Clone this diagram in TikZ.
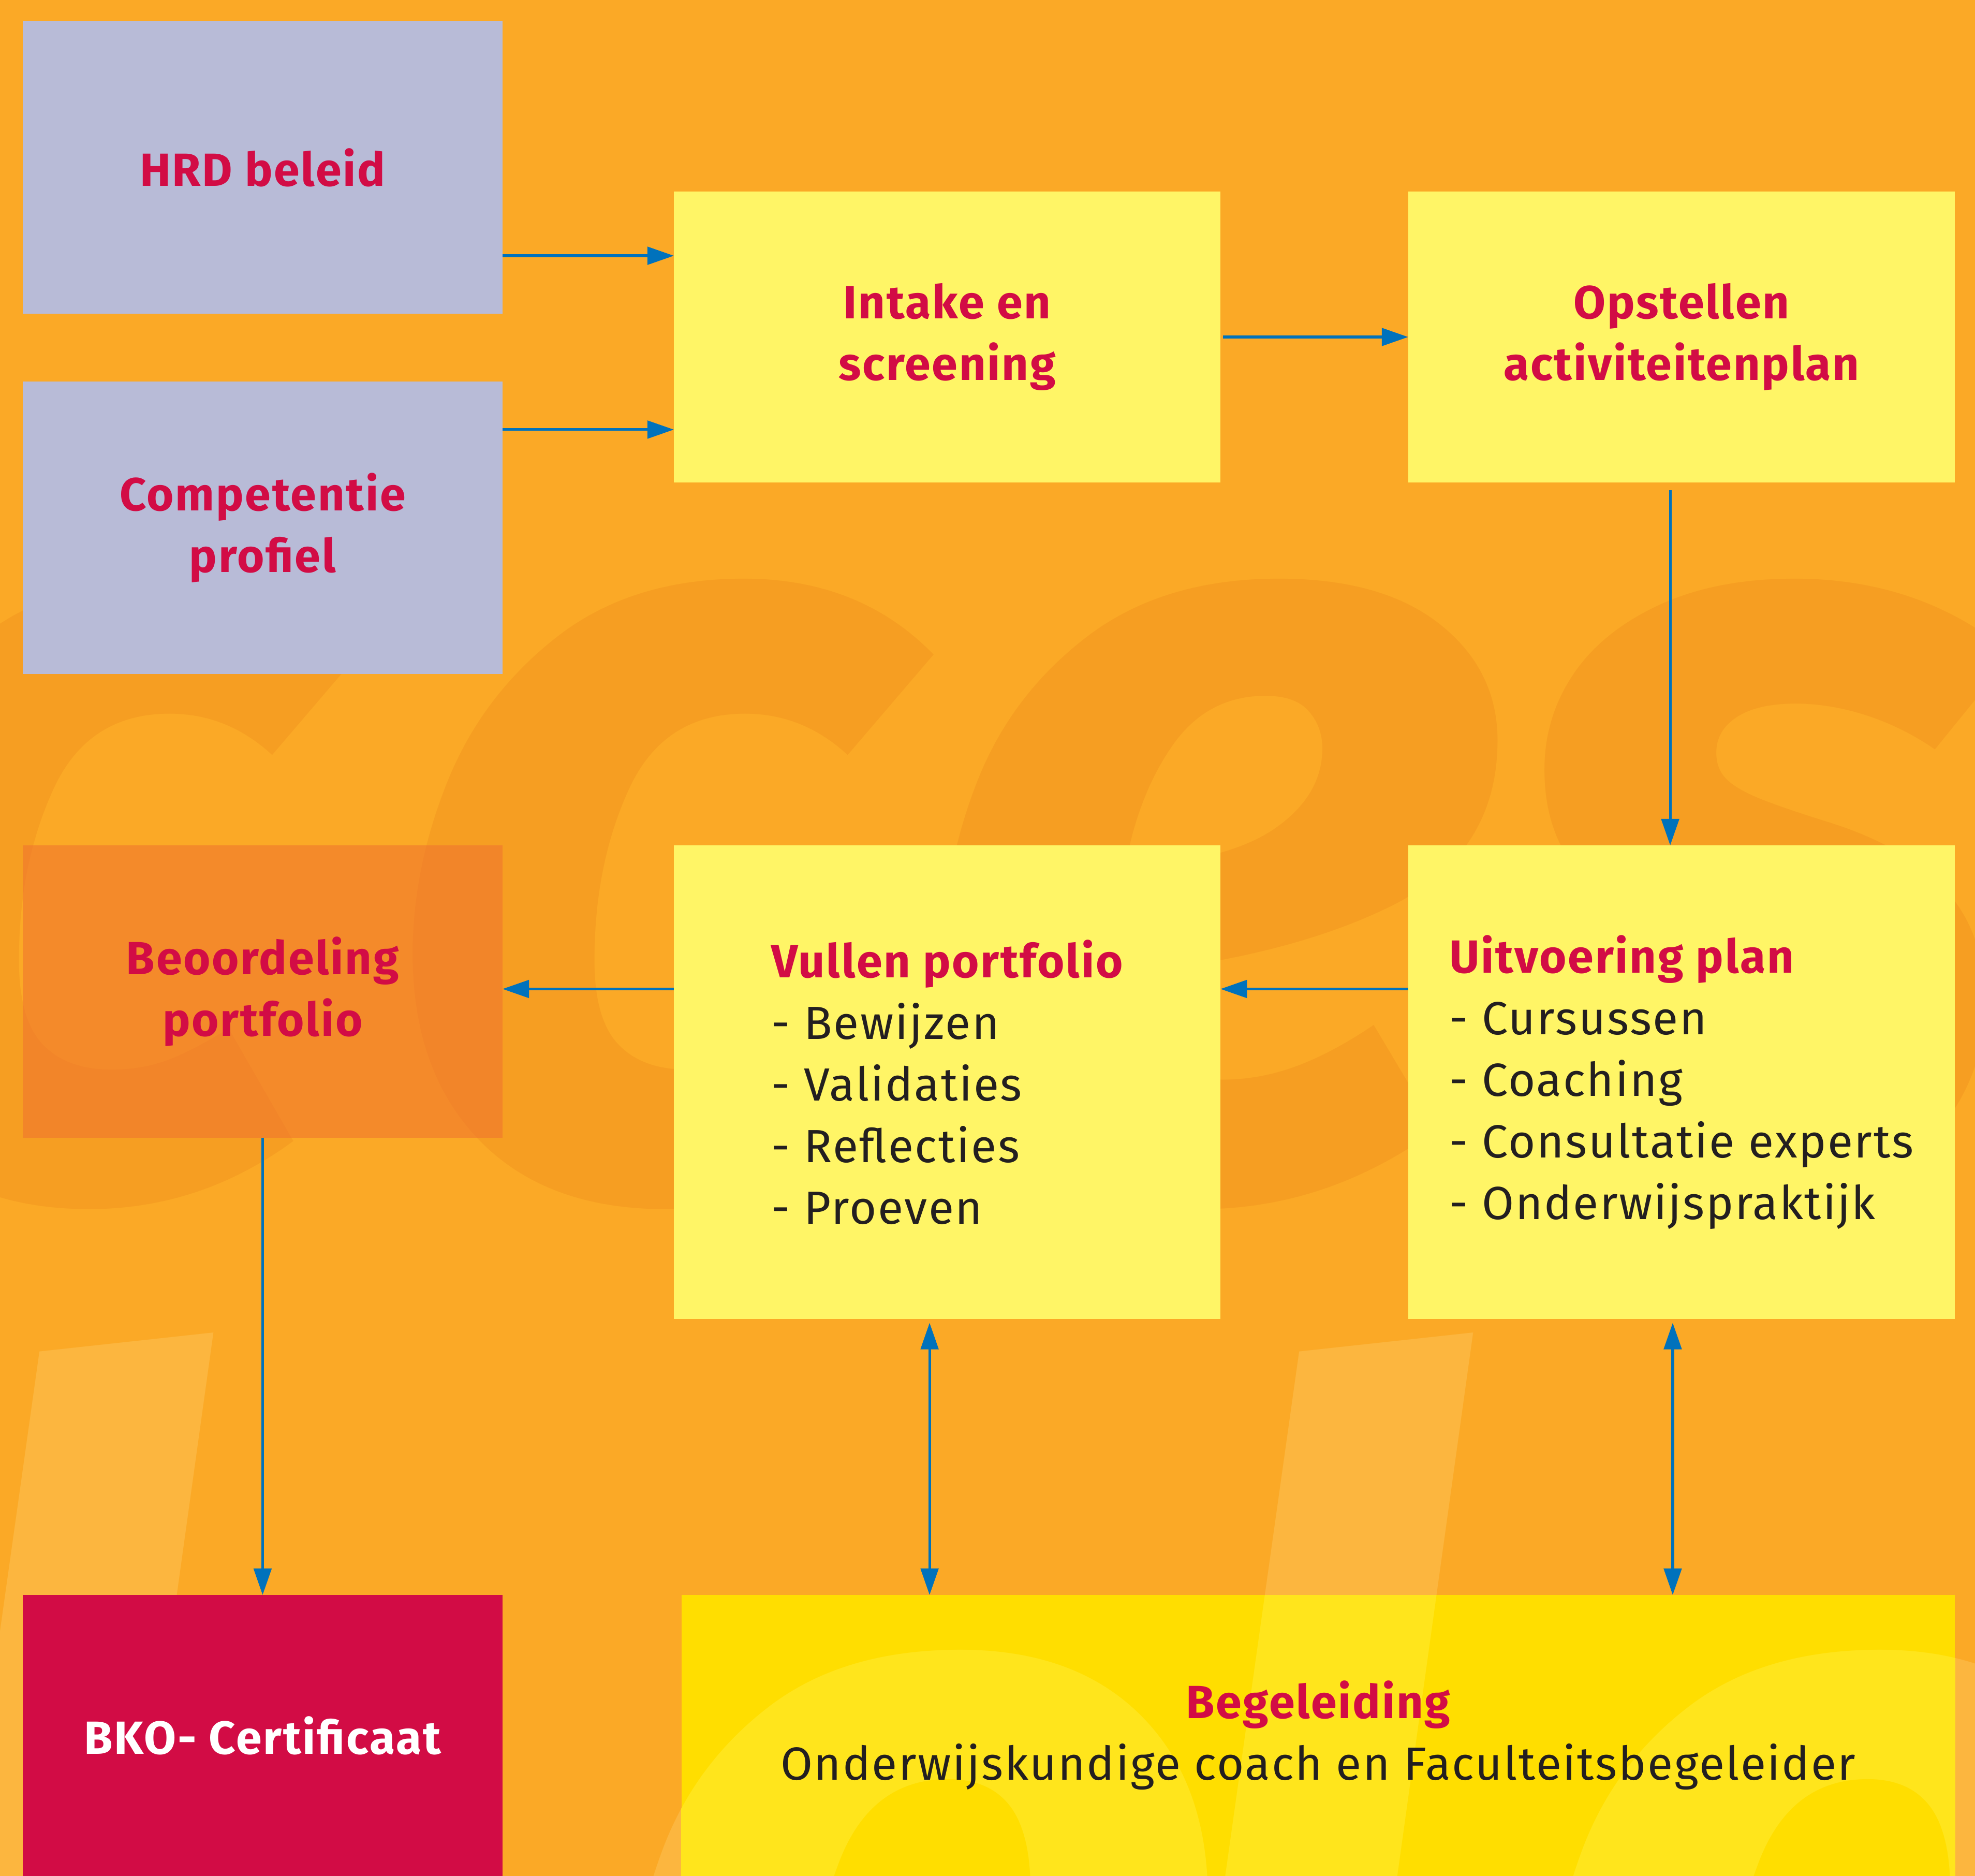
\documentclass[tikz,border=0pt]{standalone}
\usepackage{fontspec}
\setmainfont{Fira Sans}[LetterSpace=3]
\newfontfamily\wmfont{Fira Sans}
\usetikzlibrary{arrows.meta}
\definecolor{bgorange}{RGB}{251,169,38}
\definecolor{wmdark}{RGB}{246,158,34}
\definecolor{wmlight}{RGB}{252,182,63}
\definecolor{greybox}{RGB}{184,187,215}
\definecolor{yellowbox}{RGB}{255,245,102}
\definecolor{begyellow}{RGB}{255,222,0}
\definecolor{beglight}{RGB}{255,229,28}
\definecolor{beoorange}{RGB}{240,114,47}
\definecolor{crimson}{RGB}{210,12,69}
\definecolor{arrowblue}{RGB}{0,114,188}
\definecolor{textdark}{RGB}{35,31,32}
\newcommand{\boxfont}{\fontsize{10.5pt}{13.9pt}\selectfont}
\newcommand{\boxtitle}[1]{{\color{crimson}\bfseries #1}}
\tikzstyle{box} = [rectangle,inner sep=0,outer sep=0,font=\boxfont,align=center]
\tikzstyle{grey} = [box,fill=greybox,minimum width=3.81cm,minimum height=2.32cm,text=crimson,font=\boxfont\bfseries]
\tikzstyle{yel} = [box,fill=yellowbox,minimum width=4.34cm,minimum height=2.31cm,text=crimson,font=\boxfont\bfseries]
\tikzstyle{list} = [box,fill=yellowbox,minimum width=4.34cm,minimum height=3.76cm,text=textdark,align=left]
\tikzstyle{beo} = [box,fill=beoorange,fill opacity=0.55,text opacity=1,minimum width=3.81cm,minimum height=2.32cm,text=crimson,font=\boxfont\bfseries]
\tikzstyle{bko} = [box,fill=crimson,minimum width=3.81cm,minimum height=2.23cm,text=white,font=\boxfont\bfseries]
\tikzstyle{beg} = [box,fill=begyellow,minimum width=10.11cm,minimum height=2.23cm,text=textdark]
\tikzstyle{wm} = [inner sep=0,anchor=base,font=\wmfont\bfseries\itshape\fontsize{252pt}{252pt}\selectfont]
\tikzstyle{flow} = [->,draw=arrowblue,line width=0.6pt]
\tikzstyle{both} = [<->,draw=arrowblue,line width=0.6pt]

\begin{document}
\begin{tikzpicture}[x=1cm,y=-1cm,>={Triangle[length=2.1mm,width=1.4mm]}]
  \useasboundingbox (0,0) rectangle (15.68,14.89);
  \fill[bgorange] (0,0) rectangle (15.68,14.89);
  \begin{scope}
    \clip (0,0) rectangle (15.68,14.89);
    \node[wm,text=wmdark] (c1) at (0.55,9.45) {c};
    \node[wm,text=wmdark] (c2) at (5.12,9.45) {c};
    \node[wm,text=wmdark] (e1) at (9.61,9.45) {e};
    \node[wm,text=wmdark] (s1) at (13.95,9.45) {s};
    \node[wm,text=wmlight] (l1) at (0.5,17.3) {l};
    \node[wm,text=wmlight] (o1) at (7.3,17.95) {o};
    \node[wm,text=wmlight] (l2) at (10.5,17.3) {l};
    \node[wm,text=wmlight] (o2) at (14.6,17.95) {o};
  \end{scope}

  \node[grey] (hrd) at (2.085,1.33) {HRD beleid};
  \node[grey] (comp) at (2.085,4.19) {Competentie\\profiel};
  \node[yel] (intake) at (7.52,2.675) {Intake en\\screening};
  \node[yel] (opst) at (13.35,2.675) {Opstellen\\activiteitenplan};
  \node[beo] (beoord) at (2.085,7.87) {Beoordeling\\portfolio};
  \node[list] (vullen) at (7.52,8.59) {\boxtitle{Vullen portfolio}\\- Bewijzen\\- Validaties\\- Reflecties\\- Proeven};
  \node[list] (uitv) at (13.35,8.59) {\boxtitle{Uitvoering plan}\\- Cursussen\\- Coaching\\- Consultatie experts\\- Onderwijspraktijk};
  \node[bko] (bko) at (2.085,13.775) {BKO- Certificaat};
  \node[beg,path picture={
      \node[wm,text=beglight] at (o1.base) {o};
      \node[wm,text=beglight] at (l2.base) {l};
      \node[wm,text=beglight] at (o2.base) {o};}] (beg) at (10.465,13.775)
    {\boxtitle{Begeleiding}\\Onderwijskundige coach en Faculteitsbegeleider};

  \coordinate (r1) at (0,2.03);
  \coordinate (r2) at (0,3.41);
  \coordinate (r3) at (0,7.85);
  \coordinate (k1) at (13.26,0);
  \coordinate (k2) at (7.38,0);
  \coordinate (k3) at (13.28,0);
  \draw[flow] (hrd.east |- r1) -- (intake.west |- r1);
  \draw[flow] (comp.east |- r2) -- (intake.west |- r2);
  \draw[flow,shorten <=0.2mm] (intake.east) -- (opst.west);
  \draw[flow,shorten <=0.6mm] (opst.south -| k1) -- (uitv.north -| k1);
  \draw[flow] (uitv.west |- r3) -- (vullen.east |- r3);
  \draw[flow] (vullen.west |- r3) -- (beoord.east |- r3);
  \draw[flow] (beoord.south) -- (bko.north);
  \draw[both,shorten <=0.3mm] (vullen.south -| k2) -- (beg.north -| k2);
  \draw[both,shorten <=0.3mm] (uitv.south -| k3) -- (beg.north -| k3);
\end{tikzpicture}
\end{document}
